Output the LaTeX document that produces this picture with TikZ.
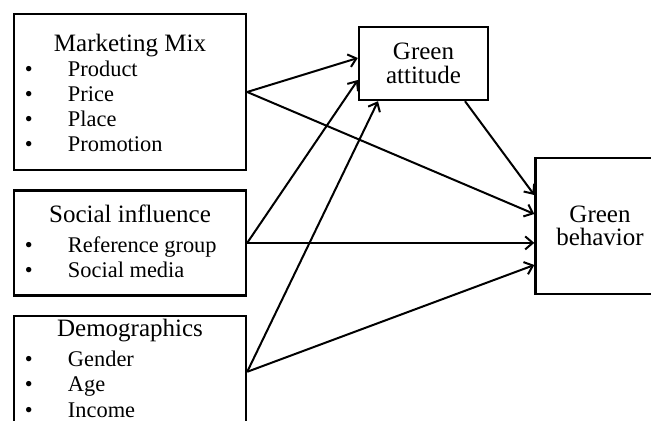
\documentclass[tikz,border=0pt]{standalone}
\usepackage{fontspec}
\setmainfont{Liberation Serif}
\usetikzlibrary{arrows.meta, positioning}

\newcommand{\itm}{\fontsize{11.2}{12.6}\selectfont\hspace*{5.5pt}\makebox[21.5pt][l]{\textbullet}}

\begin{document}
\begin{tikzpicture}[
    x=0.5pt, y=-0.5pt,
    font=\fontsize{12.5}{12.6}\selectfont,
    factor/.style={
        draw=black,
        line width=1.2pt,
        inner sep=0pt,
        minimum width=116pt
    },
    outcome/.style={
        draw=black,
        line width=1.2pt,
        align=center,
        minimum width=64.5pt,
        font=\fontsize{12.5}{11.8}\selectfont
    },
    path arrow/.style={
        -{Straight Barb[length=3.8pt, width=6.5pt]},
        line width=1pt
    }
]
    \useasboundingbox (0,0) rectangle (651,421);

    % --- Antecedents (Left) ---
    \node[factor, minimum height=78pt] (mix) at (130,92) {
        \begin{tabular}{@{}p{116pt}@{}}
            \centering\rule{0pt}{13.2pt}Marketing Mix\tabularnewline
            \itm Product\\
            \itm Price\\
            \itm Place\\
            \itm Promotion
        \end{tabular}
    };

    \node[factor, minimum height=52.5pt, below=9pt of mix] (social) {
        \begin{tabular}{@{}p{116pt}@{}}
            \centering\rule{0pt}{10.8pt}Social influence\tabularnewline[2.4pt]
            \itm Reference group\\
            \itm Social media
        \end{tabular}
    };

    \node[factor, minimum height=56pt, below=9pt of social] (demo) {
        \begin{tabular}{@{}p{116pt}@{}}
            \centering Demographics\tabularnewline[2.4pt]
            \itm Gender\\
            \itm Age\\
            \itm Income
        \end{tabular}
    };

    % --- Attitude and Behavior (Right) ---
    \node[outcome, minimum height=36.5pt] (att) at (423.5,63.5) {Green\\ attitude};
    \node[outcome, minimum height=68pt] (beh) at (600,226) {Green\\ behavior};

    % --- Paths ---
    \draw[path arrow] (mix.east) -- ([yshift=2.75pt]att.west);
    \draw[path arrow] (mix.east) -- ([yshift=6pt]beh.west);
    \draw[path arrow] (social.east) -- ([yshift=-8.25pt]att.west);
    \draw[path arrow] (social.east) -- (social.east -| beh.west);
    \draw[path arrow] (demo.east) -- ([xshift=-22.75pt]att.south);
    \draw[path arrow] (demo.east) -- ([yshift=-19.5pt]beh.west);
    \draw[path arrow] ([xshift=20.75pt]att.south) -- ([yshift=15.5pt]beh.west);

\end{tikzpicture}
\end{document}
